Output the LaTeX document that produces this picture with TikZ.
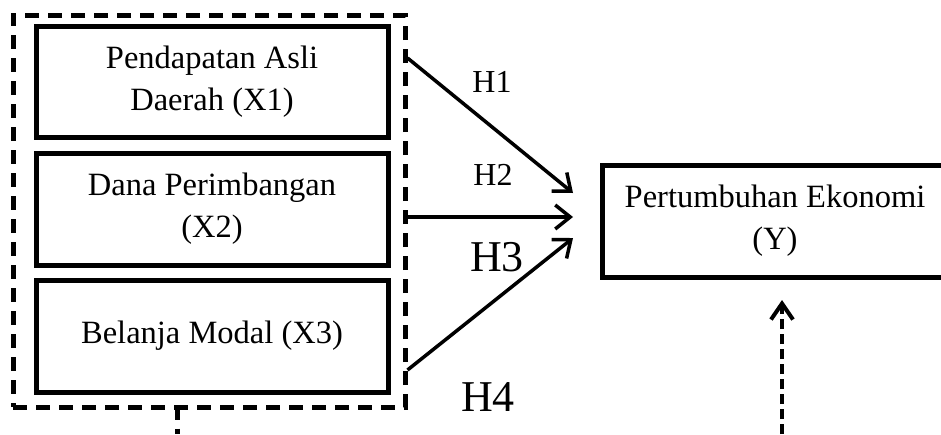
\documentclass[tikz,border=0pt]{standalone}
\usepackage{fontspec}
\setmainfont{Liberation Serif}
\usetikzlibrary{arrows.meta}
\begin{document}
\begin{tikzpicture}[x=1pt,y=-1pt,
  varbox/.style={draw,line width=5pt,rectangle,align=center,inner sep=0pt,
    font=\fontsize{32.5}{42}\selectfont},
  grp/.style={draw,line width=5pt,dash pattern=on 14pt off 9pt,rectangle,inner sep=0pt},
  link/.style={line width=3.5pt,-{Straight Barb[length=15pt,width=24pt,line width=3.5pt]}},
  hlab/.style={font=\fontsize{32}{38}\selectfont},
  hbig/.style={font=\fontsize{44}{50}\selectfont}]
  \clip (0,0) rectangle (941,434);
  \fill[white] (0,0) rectangle (941,434);

  % independent variables
  \node[varbox,minimum width=352pt,minimum height=111pt] (x1) at (212,81.5)
    {Pendapatan Asli\\Daerah (X1)};
  \node[varbox,minimum width=352pt,minimum height=112pt] (x2) at (212,209)
    {Dana Perimbangan\\(X2)};
  \node[varbox,minimum width=352pt,minimum height=112pt] (x3) at (212,336)
    {Belanja Modal (X3)};

  % dashed grouping frame
  \node[grp,minimum width=392pt,minimum height=392pt] (grp) at (209,211) {};
  \coordinate (stubend) at (177,434);
  \draw[line width=5pt,dash pattern=on 14pt off 9pt,dash phase=4pt]
    (grp.south -| stubend) -- (stubend);

  % dependent variable
  \node[varbox,minimum width=346pt,minimum height=112pt] (y) at (775,221)
    {Pertumbuhan Ekonomi\\(Y)};

  % hypothesis arrows
  \coordinate (t1) at (573,193);
  \coordinate (t2) at (573,217);
  \coordinate (t3) at (573,238);
  \draw[link] (grp.east |- 0,58) -- (t1);
  \draw[link] (grp.east |- t2) -- (t2);
  \draw[link] (grp.east |- 0,370) -- (t3);

  \node[hlab] (h1) at (492,82) {H1};
  \node[hlab] (h2) at (493,175) {H2};
  \node[hbig] (h3) at (497,257) {H3};
  \node[hbig] (h4) at (488,397) {H4};

  % dashed arrow into Y
  \coordinate (ybot) at (782,434);
  \coordinate (ytip) at (782,300);
  \draw[line width=4pt,dash pattern=on 10pt off 5pt,
    -{Straight Barb[length=16pt,width=22pt,line width=4pt]}] (ybot) -- (ytip);
\end{tikzpicture}
\end{document}
